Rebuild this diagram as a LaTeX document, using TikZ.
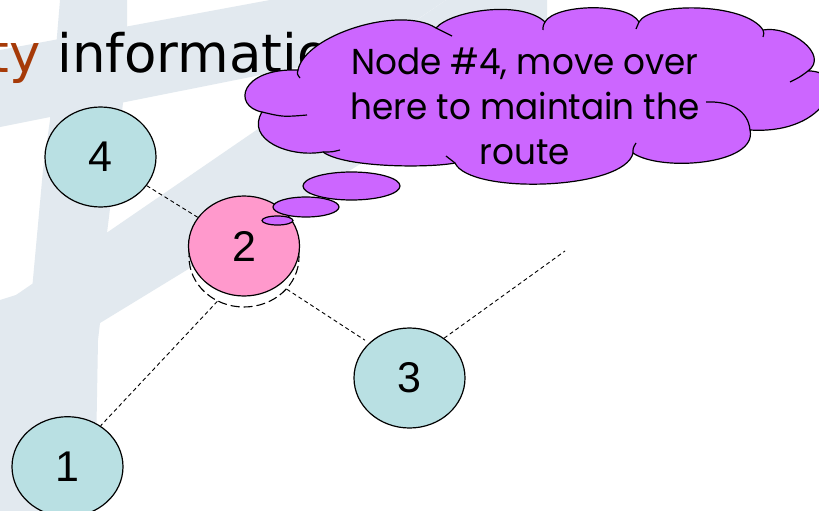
\documentclass[tikz,border=0pt]{standalone}
\usepackage{fontspec}
\setmainfont{DejaVu Sans}
\newfontfamily\titlefont{DejaVu Sans}
\newfontfamily\labelfont{Liberation Sans}
\newfontfamily\cloudfont{Poppins}
\usetikzlibrary{shapes.geometric}

\definecolor{wmark}{RGB}{226,233,239}
\definecolor{titlebrown}{RGB}{166,58,8}
\definecolor{nodeteal}{RGB}{185,224,227}
\definecolor{nodepink}{RGB}{255,153,204}
\definecolor{cloudviolet}{RGB}{204,102,255}

\newlength\cloudw

\begin{document}
% width of the widest callout line, used to fit the text to the cloud
\settowidth\cloudw{\cloudfont\fontsize{36}{45}\selectfont here to maintain the}%
\pgfmathsetmacro\cloudsx{349/\cloudw}%
\begin{tikzpicture}[x=1pt,y=-1pt,
  netnode/.style={ellipse, draw=black, line width=1.2pt, fill=nodeteal,
    minimum width=111pt, minimum height=100pt, inner sep=0pt,
    font=\labelfont\fontsize{43}{43}\selectfont},
  movenode/.style={netnode, fill=nodepink},
  oldpos/.style={ellipse, draw=black, line width=1.1pt, dash pattern=on 9pt off 4pt,
    minimum width=110pt, minimum height=100pt, inner sep=0pt},
  link/.style={draw=black, line width=0.9pt, dash pattern=on 4pt off 3pt},
  bubble/.style={ellipse, draw=black, line width=1.2pt, fill=cloudviolet, inner sep=0pt},
  cloudline/.style={draw=black, line width=1.2pt, line join=round}]

\path[use as bounding box] (0,0) rectangle (819,511);
\clip (0,0) rectangle (819,511);
\fill[white] (0,0) rectangle (819,511);

% background logo watermark
\fill[wmark] (60,0) -- (127,0) -- (127,27) -- (123,103) -- (107,233) -- (100,323)
  -- (98,340) -- (95,511) -- (0,511) -- (0,300) -- (32,290) -- (43,170) -- (50,120) -- cycle;
\fill[wmark] (0,50) -- (270,0) -- (446,0) -- (366,54) -- (0,127) -- cycle;
\fill[wmark] (0,306) -- (446,0) -- (547,0) -- (547,50) -- (100,323) -- cycle;

% slide title, partly hidden by the callout
\node[anchor=base west, inner sep=0pt, font=\titlefont\fontsize{53}{60}\selectfont]
  (title) at (-11.8,73) {\textcolor{titlebrown}{ty} information};

% previous position of node 2
\node[oldpos] (old2) at (244,257) {};

% network nodes
\node[netnode]  (n4) at (100.5,157) {4};
\node[movenode] (n2) at (244,246) {2};
\node[netnode]  (n3) at (409.5,378) {3};
\node[netnode]  (n1) at (67.5,466.7) {1};
\coordinate (far) at (565,251);

% radio links
\draw[link] (n4) -- (n2);
\draw[link] (old2.239) -- (n1.51);
\draw[link, shorten >=5pt] (old2.-37) -- (n3.139);
\draw[link] (n3.49) -- (far);

% thought bubbles
\node[bubble, minimum width=31pt, minimum height=9pt]  (b1) at (277.5,220.5) {};
\node[bubble, minimum width=66pt, minimum height=20pt] (b2) at (306,207) {};
\node[bubble, minimum width=97pt, minimum height=28pt] (b3) at (351.5,186) {};

% cloud callout outline
\path[cloudline, fill=cloudviolet]
  (298,70)
  .. controls (305,35) and (400,5) .. (436,28)
  .. controls (452,10) and (522,0) .. (545,22)
  .. controls (555,4) and (628,2) .. (639,22)
  .. controls (650,2) and (745,2) .. (763,30)
  .. controls (790,25) and (830,55) .. (808,71)
  .. controls (850,70) and (830,135) .. (750,130)
  .. controls (758,165) and (660,172) .. (633,153)
  .. controls (625,190) and (470,195) .. (455,163)
  .. controls (430,168) and (345,168) .. (323,152)
  .. controls (290,158) and (245,140) .. (262,112)
  .. controls (232,106) and (240,68) .. (298,70)
  -- cycle;

% inner arcs of the cloud lobes
\draw[cloudline] (298,70) .. controls (297,74) .. (300,78);
\draw[cloudline] (262,112) .. controls (283,117) .. (307,115);
\draw[cloudline] (323,152) .. controls (332,152) .. (340,150);
\draw[cloudline] (455,163) .. controls (451,159) .. (446,156);
\draw[cloudline] (633,153) .. controls (633,148) .. (636,143);
\draw[cloudline] (750,130) .. controls (748,110) and (730,101) .. (706,102);
\draw[cloudline] (808,71) .. controls (800,77) .. (790,82);
\draw[cloudline] (763,30) .. controls (764,33) .. (763,37);
\draw[cloudline] (639,22) .. controls (637,25) .. (636,29);
\draw[cloudline] (545,22) .. controls (543,26) .. (543,30);
\draw[cloudline] (436,28) .. controls (444,32) .. (452,36);

% callout text
\node[align=center, inner sep=0pt, xscale=\cloudsx,
  font=\cloudfont\fontsize{36}{45}\selectfont] (msg) at (525,106)
  {Node \#4, move over\\here to maintain the\\route};

\end{tikzpicture}
\end{document}
